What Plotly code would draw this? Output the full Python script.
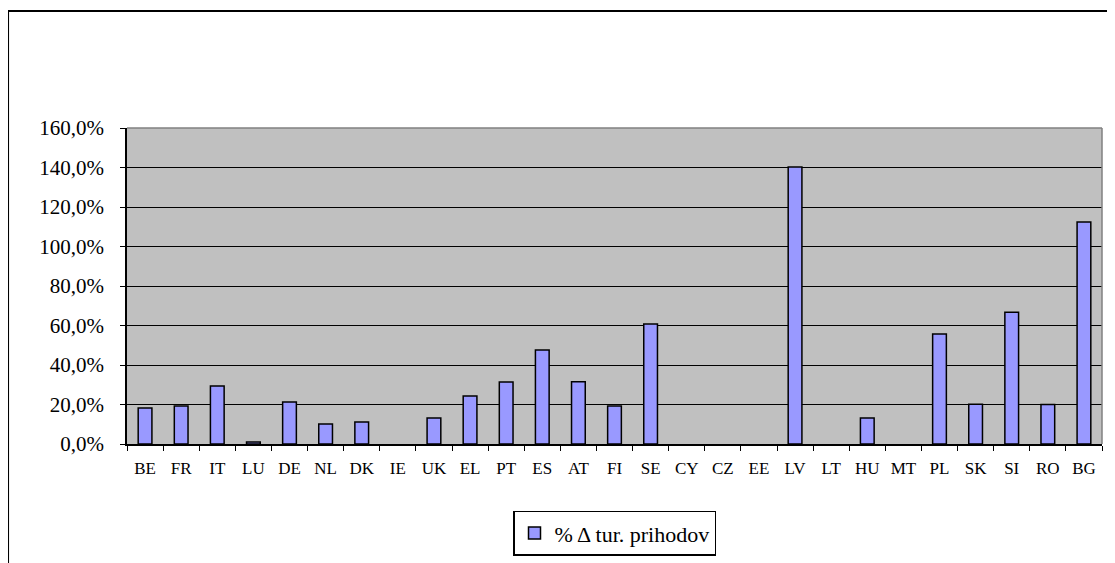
import plotly.graph_objects as go

# categories (EU member states) and % change of tourist arrivals (None = no bar)
countries = ["BE", "FR", "IT", "LU", "DE", "NL", "DK", "IE", "UK", "EL", "PT", "ES", "AT", "FI",
             "SE", "CY", "CZ", "EE", "LV", "LT", "HU", "MT", "PL", "SK", "SI", "RO", "BG"]
pct_change = [18.2, 19.2, 29.4, 1.0, 21.3, 10.1, 11.1, None, 13.2, 24.3, 31.4, 47.6, 31.5, 19.2,
              60.8, None, None, None, 140.3, None, 13.2, None, 55.7, 20.1, 66.7, 20.0, 112.4]
y_ticks = [0, 20, 40, 60, 80, 100, 120, 140, 160]
y_labels = [f"{v:.1f}%".replace(".", ",") for v in y_ticks]

serif = "'Liberation Serif', 'Times New Roman', serif"

fig = go.Figure()
fig.add_trace(go.Bar(
    x=countries,
    y=pct_change,
    name="% \u0394 tur. prihodov",
    marker=dict(color="#9999FF", line=dict(color="black", width=1.5)),
))

fig.update_layout(
    width=1115,
    height=563,
    margin=dict(l=119, r=21, t=120, b=127),
    paper_bgcolor="white",
    plot_bgcolor="#C0C0C0",
    bargap=0.62,
    font=dict(family=serif, color="black"),
    showlegend=True,
    legend=dict(
        x=0.5, y=-0.282, xanchor="center", yanchor="middle",
        bgcolor="white", bordercolor="black", borderwidth=1.5,
        font=dict(size=22, family=serif),
    ),
    xaxis=dict(
        type="category",
        showgrid=False,
        showline=True, linecolor="black", linewidth=1.5,
        ticks="outside", tickson="boundaries", ticklen=5, tickcolor="black",
        tickfont=dict(size=17, family=serif),
        ticklabelstandoff=8,
    ),
    yaxis=dict(
        range=[0, 160],
        tickvals=y_ticks,
        ticktext=y_labels,
        showgrid=True, gridcolor="black", gridwidth=1.2,
        zeroline=False,
        showline=True, linecolor="black", linewidth=1.5,
        ticks="outside", ticklen=5, tickcolor="black",
        tickfont=dict(size=21, family=serif),
        ticklabelstandoff=12,
    ),
    shapes=[
        # gray border on top and right of plot area
        dict(type="line", xref="paper", yref="paper", x0=0, x1=1, y0=1, y1=1,
             line=dict(color="#808080", width=1.5)),
        dict(type="line", xref="paper", yref="paper", x0=1, x1=1, y0=0, y1=1,
             line=dict(color="#808080", width=1.5)),
        # outer chart frame (extends past the window on right and bottom)
        dict(type="rect", xref="paper", yref="paper", x0=-0.122, x1=1.1, y0=-0.45, y1=1.370,
             line=dict(color="black", width=2), layer="below"),
    ],
)

fig.write_html("out.html")
